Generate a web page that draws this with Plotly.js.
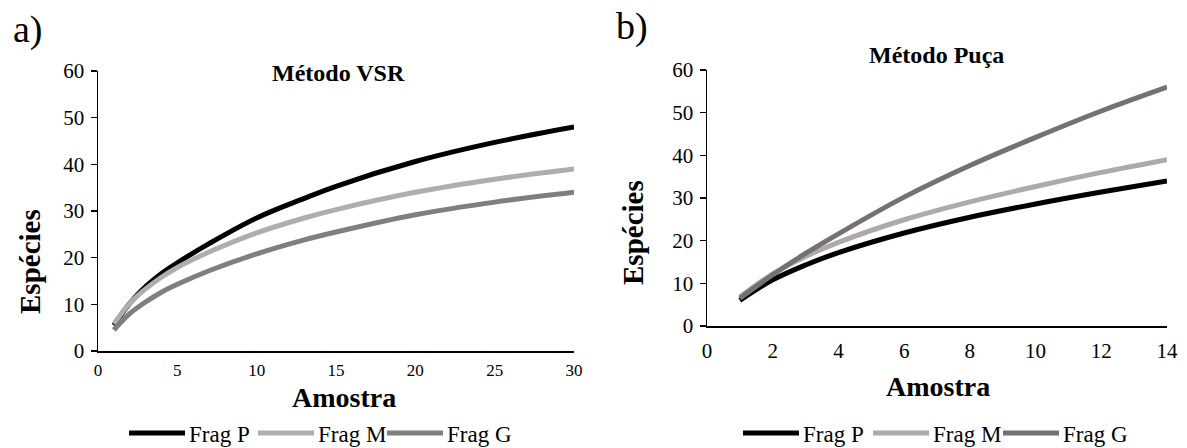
<!DOCTYPE html>
<html>
<head>
<meta charset="utf-8">
<script src="https://cdn.plot.ly/plotly-3.0.1.min.js"></script>
<style>html,body{margin:0;padding:0;background:#fff;}#chart{width:1187px;height:448px;}</style>
</head>
<body>
<div id="chart"></div>
<script>
// ---- Data ----
const seriesNames = ["Frag P", "Frag M", "Frag G"];

// a) Método VSR
const vsrX = [1, 2, 3, 4, 5, 7, 10, 13, 15, 20, 25, 30];
const vsrP = [5.5, 10.2, 13.8, 16.6, 18.9, 23, 28.5, 32.7, 35.3, 40.6, 44.7, 48];
const vsrM = [5.8, 10.2, 13.3, 15.8, 17.9, 21.2, 25.3, 28.5, 30.3, 34, 36.8, 39];
const vsrG = [4.5, 8, 10.5, 12.6, 14.3, 17.2, 20.8, 23.8, 25.5, 29.2, 31.9, 34];

// b) Método Puça
const pucaX = [1, 2, 3, 4, 6, 8, 10, 12, 14];
const pucaP = [6, 10.8, 14.3, 17.2, 21.8, 25.5, 28.6, 31.4, 34];
const pucaM = [6.8, 12.2, 16.3, 19.6, 24.9, 29.1, 32.7, 36, 39];
const pucaG = [6.5, 12, 17, 21.6, 30.2, 37.6, 44.2, 50.4, 56];

const titleA = "Método VSR";
const titleB = "Método Puça";
const xTitle = "Amostra";
const yTitle = "Espécies";

// ---- Styling ----
const W = 1187, H = 448;
const px = x => x / W;
const py = y => 1 - y / H;
const colorsA = ["#000000", "#b0adad", "#7f7f7f"];
const colorsB = ["#000000", "#aeaaaa", "#767171"];
const FONT = "Liberation Serif";
const LW = 5;

const traces = [];
[vsrP, vsrM, vsrG].forEach((ys, i) => traces.push({
  x: vsrX, y: ys, type: "scatter", mode: "lines", name: seriesNames[i],
  line: {color: colorsA[i], width: LW, shape: "spline", smoothing: 1},
  xaxis: "x", yaxis: "y", showlegend: false, hoverinfo: "x+y"
}));
[pucaP, pucaM, pucaG].forEach((ys, i) => traces.push({
  x: pucaX, y: ys, type: "scatter", mode: "lines", name: seriesNames[i],
  line: {color: colorsB[i], width: LW, shape: "spline", smoothing: 1},
  xaxis: "x2", yaxis: "y2", showlegend: false, hoverinfo: "x+y"
}));

const axBase = {
  showgrid: false, zeroline: false, showline: true, linecolor: "#000", linewidth: 1.5,
  tickfont: {family: FONT, size: 21, color: "#000"}, fixedrange: true
};

const layout = {
  width: W, height: H,
  margin: {l: 0, r: 0, t: 0, b: 0},
  paper_bgcolor: "#fff", plot_bgcolor: "#fff",
  showlegend: false,
  xaxis: Object.assign({}, axBase, {
    domain: [px(98), px(574)], range: [0, 30], tickvals: [0, 5, 10, 15, 20, 25, 30],
    ticks: "", tickfont: {family: FONT, size: 17, color: "#000"}, anchor: "y", ticklabelstandoff: 3
  }),
  yaxis: Object.assign({}, axBase, {
    domain: [py(351), py(71)], range: [0, 60], tickvals: [0, 10, 20, 30, 40, 50, 60],
    ticks: "outside", ticklen: 6, tickwidth: 1.5, tickcolor: "#000", anchor: "x", ticklabelstandoff: 2
  }),
  xaxis2: Object.assign({}, axBase, {
    domain: [px(707), px(1167)], range: [0, 14], tickvals: [0, 2, 4, 6, 8, 10, 12, 14],
    ticks: "", anchor: "y2", ticklabelstandoff: 5
  }),
  yaxis2: Object.assign({}, axBase, {
    domain: [py(326), py(70)], range: [0, 60], tickvals: [0, 10, 20, 30, 40, 50, 60],
    ticks: "outside", ticklen: 6, tickwidth: 1.5, tickcolor: "#000", anchor: "x2", ticklabelstandoff: 2
  }),
  annotations: [],
  shapes: []
};

function ann(text, x, y, opts) {
  layout.annotations.push(Object.assign({
    text: text, xref: "paper", yref: "paper", x: px(x), y: py(y),
    showarrow: false, xanchor: "center", yanchor: "middle",
    font: {family: FONT, size: 22, color: "#000"}
  }, opts || {}));
}

// Panel letters
ann("a)", 11, 30, {xanchor: "left", font: {family: FONT, size: 38, color: "#000"}});
ann("b)", 614, 27, {xanchor: "left", font: {family: FONT, size: 38, color: "#000"}});
// Titles
ann("<b>" + titleA + "</b>", 338, 73, {font: {family: FONT, size: 24, color: "#000"}});
ann("<b>" + titleB + "</b>", 936, 55, {font: {family: FONT, size: 24, color: "#000"}});
// Axis titles
ann("<b>" + xTitle + "</b>", 344, 397, {font: {family: FONT, size: 28, color: "#000"}});
ann("<b>" + xTitle + "</b>", 938, 386, {font: {family: FONT, size: 28, color: "#000"}});
ann("<b>" + yTitle + "</b>", 30, 262, {textangle: -90, font: {family: FONT, size: 29, color: "#000"}});
ann("<b>" + yTitle + "</b>", 633, 233, {textangle: -90, font: {family: FONT, size: 29, color: "#000"}});

// Legends (drawn from series names and colours)
function legend(startX, y, stride, colors) {
  seriesNames.forEach((nm, i) => {
    const x0 = startX + i * stride;
    layout.shapes.push({type: "line", xref: "paper", yref: "paper",
      x0: px(x0), x1: px(x0 + 56), y0: py(y), y1: py(y),
      line: {color: colors[i], width: 5}});
    ann(nm, x0 + 58, y + 1, {xanchor: "left", font: {family: FONT, size: 23, color: "#000"}});
  });
}
legend(129, 433, 129, colorsA);
legend(743, 433, 130, colorsB);

Plotly.newPlot("chart", traces, layout, {displayModeBar: false, staticPlot: true});
</script>
</body>
</html>
